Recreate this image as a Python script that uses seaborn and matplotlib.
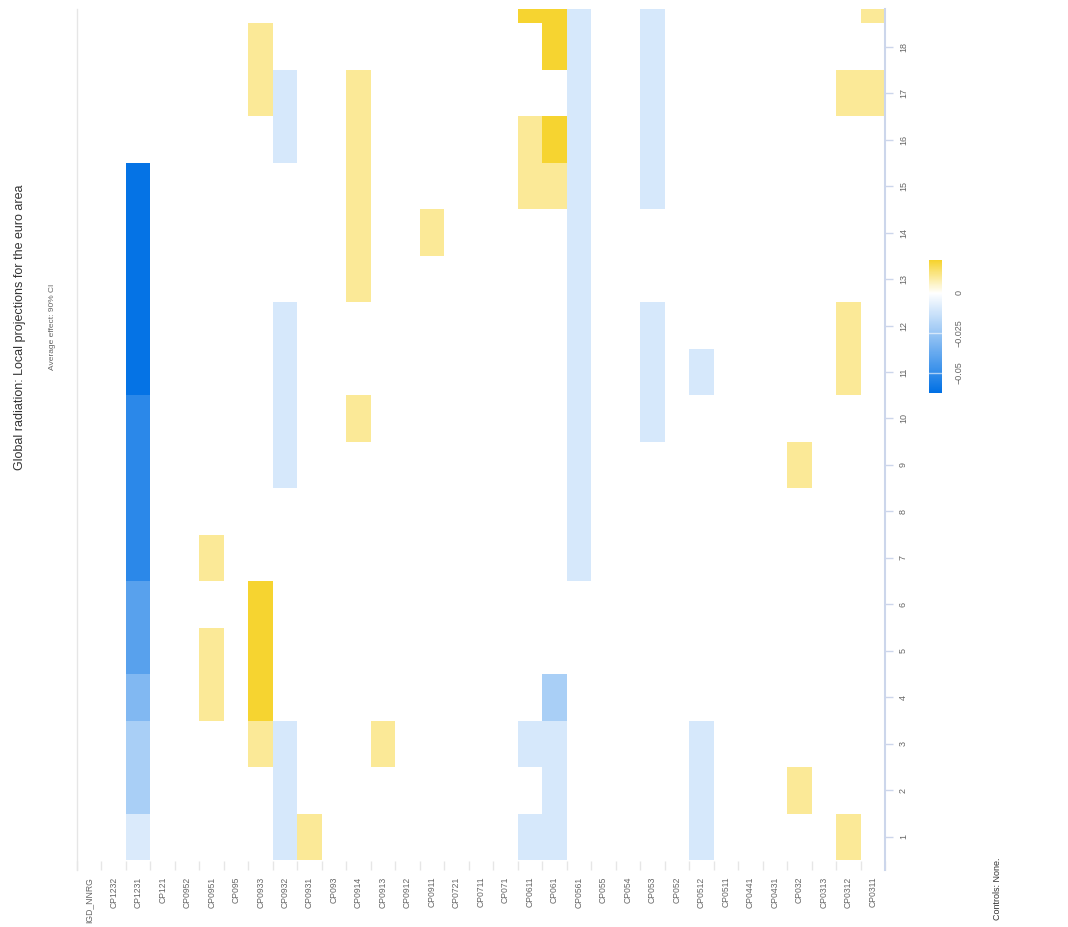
import numpy as np
import pandas as pd
import matplotlib
matplotlib.use("Agg")
import matplotlib.pyplot as plt
import seaborn as sns
from matplotlib.colors import LinearSegmentedColormap

categories = ["IGD_NNRG", "CP1232", "CP1231", "CP121", "CP0952", "CP0951", "CP095",
              "CP0933", "CP0932", "CP0931", "CP093", "CP0914", "CP0913", "CP0912",
              "CP0911", "CP0721", "CP0711", "CP071", "CP0611", "CP061", "CP0561",
              "CP055", "CP054", "CP053", "CP052", "CP0512", "CP0511", "CP0441",
              "CP0431", "CP032", "CP0313", "CP0312", "CP0311"]
horizons = list(range(1, 20))

# significant average effects (90% CI), per category: horizons and values
cell_columns = ["CP1231", "CP0951", "CP0933", "CP0932", "CP0931", "CP0914", "CP0913",
                "CP0911", "CP0611", "CP061", "CP0561", "CP053", "CP0512", "CP032",
                "CP0312", "CP0311"]
cell_horizons = [
    [1, 2, 3, 4, 5, 6, 7, 8, 9, 10, 11, 12, 13, 14, 15],
    [4, 5, 7],
    [3, 4, 5, 6, 17, 18],
    [1, 2, 3, 9, 10, 11, 12, 16, 17],
    [1],
    [10, 13, 14, 15, 16, 17],
    [3],
    [14],
    [1, 3, 15, 16, 19],
    [1, 2, 3, 4, 15, 16, 18, 19],
    [7, 8, 9, 10, 11, 12, 13, 14, 15, 16, 17, 18, 19],
    [10, 11, 12, 15, 16, 17, 18, 19],
    [1, 2, 3, 11],
    [2, 9],
    [1, 11, 12, 17],
    [17, 19],
]
cell_values = [
    [-0.009, -0.021, -0.021, -0.031, -0.041, -0.041, -0.052, -0.052, -0.052, -0.052,
     -0.061, -0.061, -0.061, -0.061, -0.061],
    [0.01, 0.01, 0.01],
    [0.01, 0.02, 0.02, 0.02, 0.01, 0.01],
    [-0.01, -0.01, -0.01, -0.01, -0.01, -0.01, -0.01, -0.01, -0.01],
    [0.01],
    [0.01, 0.01, 0.01, 0.01, 0.01, 0.01],
    [0.01],
    [0.01],
    [-0.01, -0.01, 0.01, 0.01, 0.02],
    [-0.01, -0.01, -0.01, -0.021, 0.01, 0.02, 0.02, 0.02],
    [-0.01, -0.01, -0.01, -0.01, -0.01, -0.01, -0.01, -0.01, -0.01, -0.01, -0.01,
     -0.01, -0.01],
    [-0.01, -0.01, -0.01, -0.01, -0.01, -0.01, -0.01, -0.01],
    [-0.01, -0.01, -0.01, -0.01],
    [0.01, 0.01],
    [0.01, 0.01, 0.01, 0.01],
    [0.01, 0.01],
]
cbar_ticks = [0, -0.025, -0.05]
cbar_labels = ["0", "\u22120.025", "\u22120.05"]

grid = pd.DataFrame(np.nan, index=horizons[::-1], columns=categories)
for col, hs, vs in zip(cell_columns, cell_horizons, cell_values):
    for h, v in zip(hs, vs):
        grid.loc[h, col] = v

plt.rcParams["font.family"] = ["Liberation Sans", "DejaVu Sans"]

vmin, vmax = -0.0625, 0.0206
mid = -vmin / (vmax - vmin)
cmap = LinearSegmentedColormap.from_list(
    "blue_yellow", [(0, "#0070E4"), (mid, "#FFFFFF"), (1, "#F6D32D")])

fig = plt.figure(figsize=(10.68, 9.27), dpi=100)
ax = fig.add_axes([77 / 1068, 57 / 927, 808 / 1068, 861 / 927])
cax = fig.add_axes([929 / 1068, 534 / 927, 13 / 1068, 133 / 927])

sns.heatmap(grid, ax=ax, cmap=cmap, vmin=vmin, vmax=vmax, cbar_ax=cax,
            linewidths=0, xticklabels=True, yticklabels=True)

ax.set_ylim(19.215, 0.69)
ax.set_xlabel("")
ax.set_ylabel("")

# x: category labels, small gridline ticks at cell boundaries
ax.set_xticks(np.arange(len(categories)) + 0.5)
ax.set_xticklabels(categories, rotation=90, fontsize=6.2, color="#666666")
ax.tick_params(axis="x", length=0, pad=5)
ax.set_xticks(np.arange(len(categories) + 1), minor=True)
ax.tick_params(axis="x", which="minor", direction="in", length=6.5,
               width=1, color="#e6e6e6")

# y: horizons on the right
ax.yaxis.tick_right()
ax.set_yticks([19 - h + 0.5 for h in range(1, 19)])
ax.set_yticklabels([str(h) for h in range(1, 19)], rotation=90, va="center",
                   fontsize=6.5, color="#666666")
ax.tick_params(axis="y", length=6, width=1, color="#ccd6eb", pad=4)

for side in ["top", "bottom"]:
    ax.spines[side].set_visible(False)
ax.spines["left"].set_visible(True)
ax.spines["left"].set_color("#e6e6e6")
ax.spines["left"].set_linewidth(1)
ax.spines["right"].set_visible(True)
ax.spines["right"].set_color("#ccd6eb")
ax.spines["right"].set_linewidth(1.5)

# colour axis
cax.set_yticks(cbar_ticks)
cax.set_yticklabels(cbar_labels, rotation=90, va="center", fontsize=6.5,
                    color="#666666")
cax.tick_params(length=0, pad=9)
for t in cbar_ticks[1:]:
    cax.axhline(t, color="white", lw=1, alpha=0.6)

fig.text(20 / 1068, 600 / 927, "Global radiation: Local projections for the euro area",
         rotation=90, ha="center", va="center", fontsize=9, color="#333333")
fig.text(52 / 1068, 600 / 927, "Average effect: 90% CI", rotation=90,
         ha="center", va="center", fontsize=6, color="#666666")
fig.text(997 / 1068, 69 / 927, "Controls: None.", rotation=90, ha="center",
         va="top", fontsize=6.5, color="#333333")

fig.savefig("out.png", dpi=100)
